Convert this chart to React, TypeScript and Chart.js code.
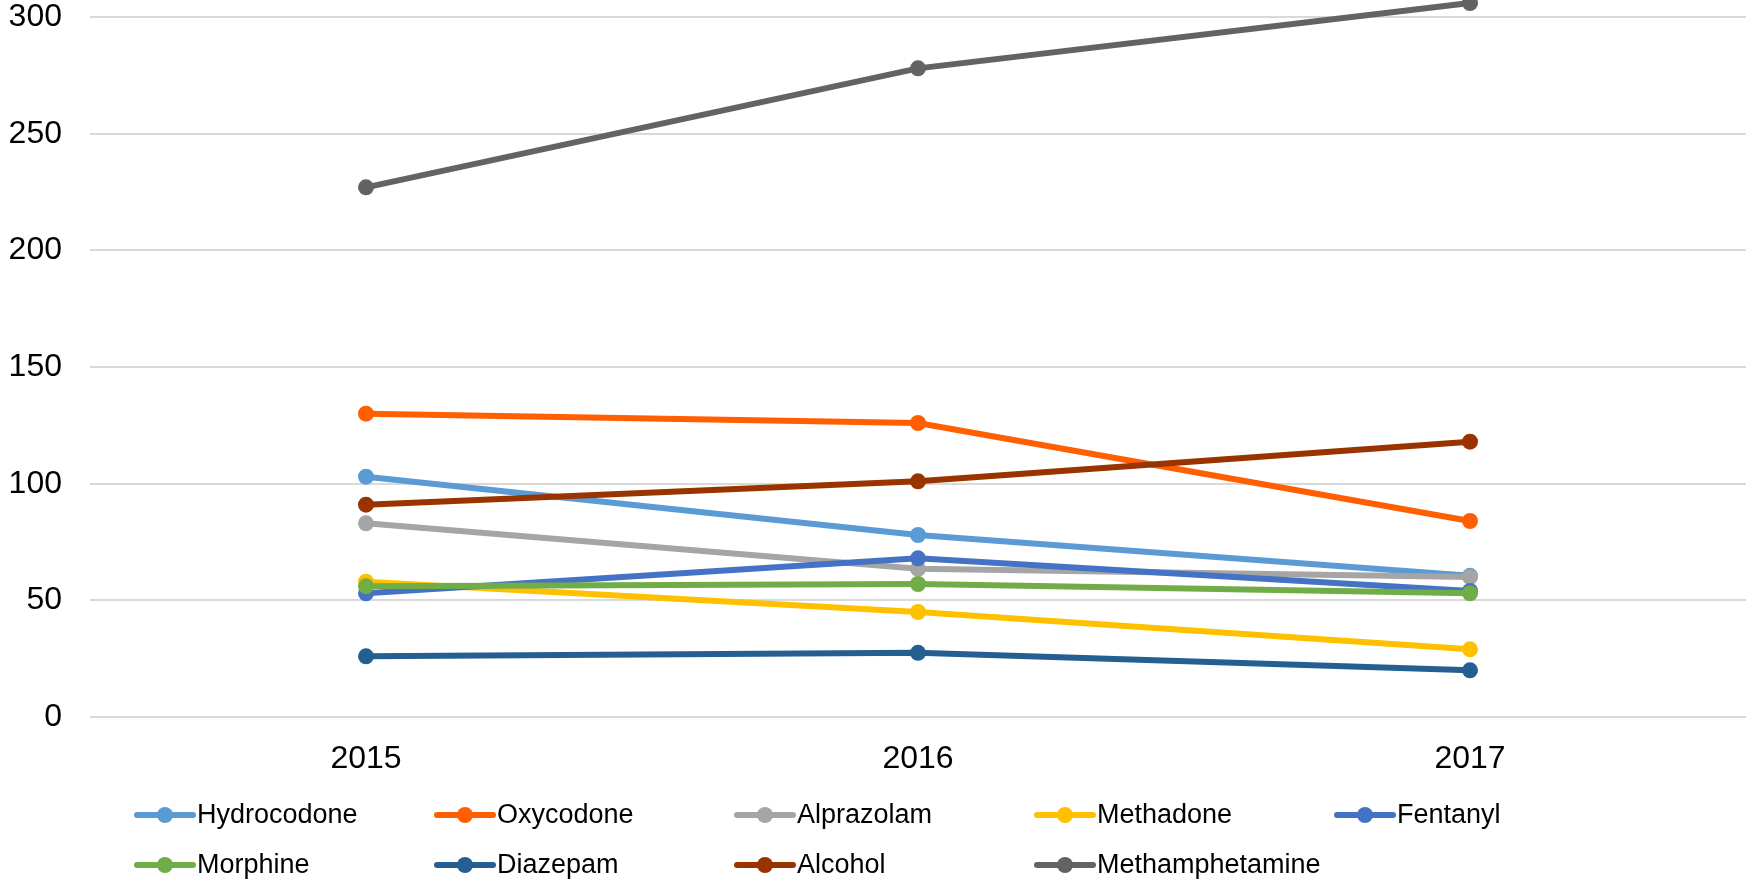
import React, { useEffect, useRef } from "react";
import { Chart, registerables } from "chart.js";

Chart.register(...registerables);

// ---- data ----
const years = ["2015", "2016", "2017"];
const seriesNames = [
  "Hydrocodone",
  "Oxycodone",
  "Alprazolam",
  "Methadone",
  "Fentanyl",
  "Morphine",
  "Diazepam",
  "Alcohol",
  "Methamphetamine",
];
const hydrocodone = [103, 78, 60.5];
const oxycodone = [130, 126, 84];
const alprazolam = [83, 63.5, 60];
const methadone = [58, 45, 29];
const fentanyl = [53, 68, 54];
const morphine = [56, 57, 53];
const diazepam = [26, 27.5, 20];
const alcohol = [91, 101, 118];
const methamphetamine = [227, 278, 306];
const seriesValues = [
  hydrocodone,
  oxycodone,
  alprazolam,
  methadone,
  fentanyl,
  morphine,
  diazepam,
  alcohol,
  methamphetamine,
];
const seriesColors = [
  "#5B9BD5",
  "#FF5F00",
  "#A5A5A5",
  "#FFC000",
  "#4472C4",
  "#70AD47",
  "#255E91",
  "#993300",
  "#636363",
];
// axis range: the picture is cut just above the 300 gridline
const yMin = 0;
const yMax = 307.3;
const yTickValues = [0, 50, 100, 150, 200, 250, 300];

const FONT = "'Liberation Sans', Arial, sans-serif";

const gridLegend = {
  id: "gridLegend",
  afterDraw(chart: any) {
    const ctx = chart.ctx;
    const ds = chart.data.datasets;
    ctx.save();
    ctx.font = `27px ${FONT}`;
    ctx.textBaseline = "middle";
    ctx.textAlign = "left";
    ds.forEach((d: any, i: number) => {
      const col = i % 5;
      const row = Math.floor(i / 5);
      const x = 137 + col * 300;
      const y = chart.height - 66 + row * 50;
      ctx.strokeStyle = d.borderColor;
      ctx.lineWidth = 6;
      ctx.lineCap = "round";
      ctx.beginPath();
      ctx.moveTo(x, y);
      ctx.lineTo(x + 56, y);
      ctx.stroke();
      ctx.fillStyle = d.borderColor;
      ctx.beginPath();
      ctx.arc(x + 28, y, 8, 0, Math.PI * 2);
      ctx.fill();
      ctx.fillStyle = "#000";
      ctx.fillText(d.label, x + 60, y + 1);
    });
    ctx.restore();
  },
};

export default function App() {
  const ref = useRef<HTMLCanvasElement | null>(null);

  useEffect(() => {
    document.body.style.margin = "0";
    document.body.style.overflow = "hidden";
    if (!ref.current) return;
    const n = seriesNames.length;
    const chart = new Chart(ref.current, {
      type: "line",
      data: {
        labels: years,
        datasets: seriesNames.map((name, i) => ({
          label: name,
          data: seriesValues[i],
          borderColor: seriesColors[i],
          backgroundColor: seriesColors[i],
          pointBackgroundColor: seriesColors[i],
          pointBorderColor: seriesColors[i],
          borderWidth: 6,
          pointRadius: 8,
          pointBorderWidth: 0,
          tension: 0,
          fill: false,
          clip: false as any,
          order: n - i,
        })),
      },
      options: {
        animation: false,
        responsive: true,
        maintainAspectRatio: false,
        layout: { autoPadding: false, padding: { top: 0, left: 0, right: 0, bottom: 84 } },
        plugins: {
          legend: { display: false },
          tooltip: { enabled: false },
        },
        scales: {
          x: {
            offset: true,
            grid: { display: false, drawTicks: false },
            border: { display: false },
            ticks: {
              color: "#000",
              font: { family: FONT, size: 32 },
              padding: 23,
            },
            afterFit: (scale: any) => {
              scale.height = 80;
              scale.paddingLeft = 0;
              scale.paddingRight = 0;
            },
          },
          y: {
            min: yMin,
            max: yMax,
            grid: { color: "#D9D9D9", lineWidth: 2, drawTicks: false },
            border: { display: false },
            ticks: {
              color: "#000",
              font: { family: FONT, size: 32, lineHeight: 1 },
              padding: 28,
            },
            afterBuildTicks: (scale: any) => {
              scale.ticks = yTickValues.map((v) => ({ value: v }));
            },
            afterFit: (scale: any) => {
              scale.width = 90;
              scale.paddingTop = 0;
              scale.paddingBottom = 0;
            },
          },
        },
      },
      plugins: [gridLegend],
    });
    return () => chart.destroy();
  }, []);

  return (
    <div style={{ position: "relative", width: "1746px", height: "881px" }}>
      <canvas ref={ref} />
    </div>
  );
}
